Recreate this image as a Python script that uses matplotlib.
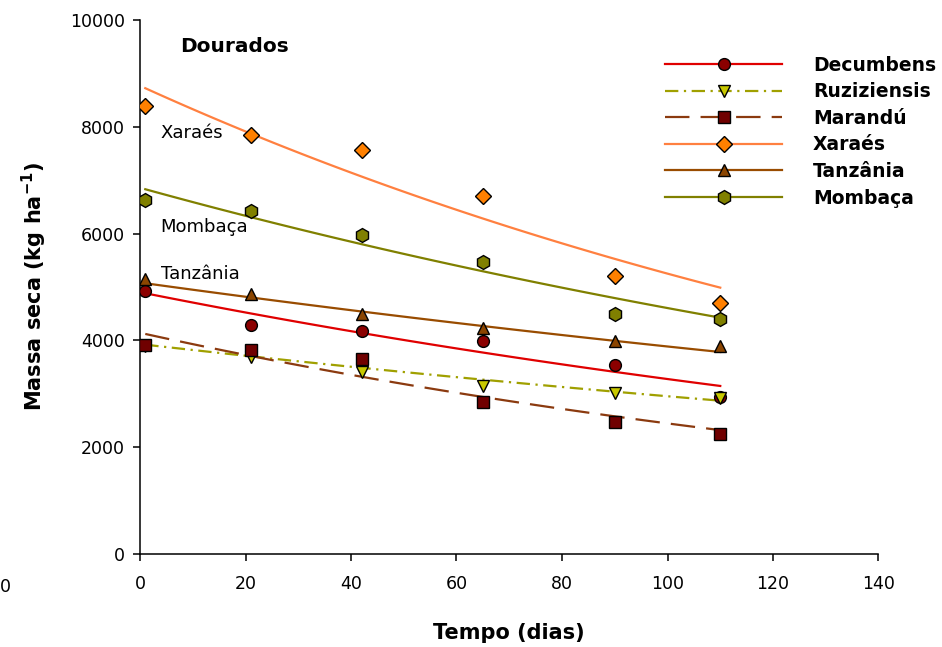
import numpy as np
import matplotlib
matplotlib.use("Agg")
import matplotlib.pyplot as plt

# sampling days
dias = [1, 21, 42, 65, 90, 110]

# dry mass (kg/ha)
decumbens = [4930, 4295, 4177, 3990, 3540, 2941]
ruziziensis = [3900, 3684, 3415, 3146, 3015, 2922]
marandu = [3920, 3821, 3646, 2847, 2472, 2248]
xaraes = [8391, 7848, 7561, 6705, 5207, 4701]
tanzania = [5145, 4870, 4489, 4233, 3990, 3896]
mombaca = [6630, 6419, 5975, 5469, 4495, 4402]

# exponential trend lines: value at first and last day
trend_start = [4883, 3920, 4121, 8723, 5070, 6831]
trend_end = [3147, 2871, 2320, 4988, 3783, 4426]

names = ["Decumbens", "Ruziziensis", "Marandú", "Xaraés", "Tanzânia", "Mombaça"]
series = [decumbens, ruziziensis, marandu, xaraes, tanzania, mombaca]
line_colors = ["#E00000", "#A0A000", "#8B3A0F", "#FF8040", "#994C00", "#808000"]
marker_colors = ["#8B0000", "#C8C800", "#700000", "#FF8000", "#8B4500", "#808000"]
markers = ["o", "v", "s", "D", "^", "h"]
sizes = [8.5, 9, 8, 8, 9, 10]
dashes = [None, (6, 2.5, 1, 2.5), (11, 5), None, None, None]

plt.rcParams["font.family"] = "DejaVu Sans"
fig = plt.figure(figsize=(9.42, 6.47), dpi=100)
ax = fig.add_axes([140 / 942, 1 - 554 / 647, 738.5 / 942, 534 / 647])

x = np.array(dias, dtype=float)
xx = np.linspace(x[0], x[-1], 100)
t = (xx - x[0]) / (x[-1] - x[0])
handles = []
for i, name in enumerate(names):
    lc, mc, mk, ms, ds = line_colors[i], marker_colors[i], markers[i], sizes[i], dashes[i]
    curve = trend_start[i] * (trend_end[i] / trend_start[i]) ** t
    ln, = ax.plot(xx, curve, color=lc, lw=1.6)
    if ds is not None:
        ln.set_dashes(ds)
    ax.plot(x, series[i], ls="none", marker=mk, ms=ms, mfc=mc, mec="black", mew=1.0, zorder=3)
    h, = ax.plot([], [], color=lc, lw=1.6, marker=mk, ms=ms, mfc=mc, mec="black", mew=1.0)
    if ds is not None:
        h.set_dashes(ds)
    handles.append(h)

ax.set_xlim(0, 140)
ax.set_ylim(0, 10000)
ax.set_xticks(range(0, 141, 20))
ax.set_yticks(range(0, 10001, 2000))
ax.spines["top"].set_visible(False)
ax.spines["right"].set_visible(False)
ax.spines["left"].set_linewidth(1.1)
ax.spines["bottom"].set_linewidth(1.1)
ax.tick_params(direction="out", length=5, width=1.1, labelsize=12.5, pad=6)
ax.tick_params(axis="x", pad=10)

ax.set_xlabel("Tempo (dias)", fontsize=15, fontweight="bold", labelpad=22)
ax.set_ylabel("Massa seca (kg ha$^{\\mathbf{-1}}$)", fontsize=15, fontweight="bold", labelpad=15)

ax.text(7.6, 9500, "Dourados", fontsize=14.5, fontweight="bold", ha="left", va="center")
ax.text(3.9, 7880, "Xaraés", fontsize=13, ha="left", va="center")
ax.text(3.9, 6125, "Mombaça", fontsize=13, ha="left", va="center")
ax.text(3.9, 5245, "Tanzânia", fontsize=13, ha="left", va="center")

# clipped stray label at the far left
fig.text(0.0, 1 - 587 / 647, "0", fontsize=12.5, ha="left", va="center")

leg = ax.legend(handles, names, loc="upper left", bbox_to_anchor=(0.688, 0.965),
                frameon=False, numpoints=1, handlelength=6.25, handletextpad=1.65,
                labelspacing=0.405, prop={"weight": "bold", "size": 13.5})

fig.savefig("out.png", dpi=100)
